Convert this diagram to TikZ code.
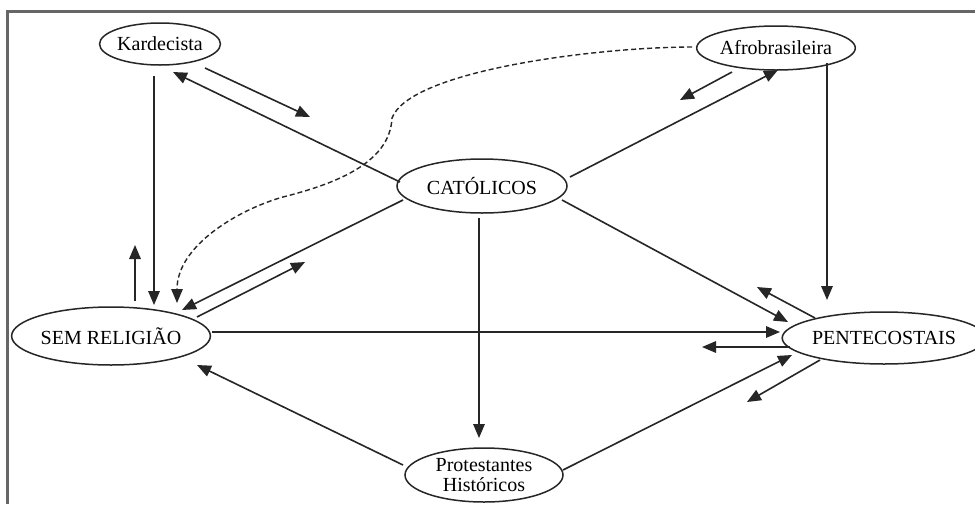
\documentclass[tikz,border=0pt]{standalone}
\usepackage{fontspec}
\setmainfont{Liberation Serif}
\usetikzlibrary{shapes.geometric,arrows.meta}
\begin{document}
\begin{tikzpicture}[x=1pt,y=-1pt,
  ell/.style={draw=black!85,line width=1.5pt,ellipse,inner sep=0pt,
    font=\fontsize{20}{21}\selectfont,text=black,align=center},
  arr/.style={draw=black!85,line width=1.6pt,
    -{Triangle[length=14pt,width=11.5pt]}},
  dsh/.style={arr,dashed,dash pattern=on 5pt off 3pt,line width=1.4pt},
  framel/.style={draw=black!60,line width=3pt}]
\useasboundingbox (0,0) rectangle (975,504);
\fill[white] (0,0) rectangle (975,504);
% frame (top and left edges)
\coordinate (ftl) at (7,11);
\coordinate (ftr) at (975,11);
\coordinate (fbl) at (7,504);
\draw[framel] (fbl) -- (ftl) -- (ftr);
% nodes
\node[ell,minimum width=114pt,minimum height=42pt] (kard) at (160,44) {Kardecista};
\node[ell,minimum width=148pt,minimum height=44pt] (afro) at (776,48) {Afrobrasileira};
\node[ell,minimum width=170pt,minimum height=54pt] (cat) at (482,186) {CATÓLICOS};
\node[ell,minimum width=194pt,minimum height=58pt] (sem) at (111,336) {SEM RELIGIÃO};
\node[ell,minimum width=180pt,minimum height=52pt] (pent) at (884,338) {PENTECOSTAIS};
\node[ell,minimum width=158pt,minimum height=54pt] (prot) at (484,475) {Protestantes\\[-1pt]Históricos};
% free ends of short arrows
\coordinate (s2k) at (135,245);
\coordinate (k2c) at (310,117);
\coordinate (s2c) at (305,262);
\coordinate (a2c) at (680,100);
\coordinate (p2c) at (757,287);
\coordinate (p2s) at (702,347);
\coordinate (p2p) at (747,402);
% connectors
\draw[arr] ([shift={(-6,32)}]kard.center) -- ([shift={(43,-31)}]sem.center);
\draw[arr] ([shift={(24,-35)}]sem.center) -- (s2k);
\draw[arr] ([shift={(-82,-4)}]cat.center) -- ([shift={(13,28)}]kard.center);
\draw[arr] ([shift={(45,24)}]kard.center) -- (k2c);
\draw[dsh] ([shift={(-84,-1)}]afro.center)
   .. controls (600,47) and (410,70) .. (392,118)
   .. controls (390,165) and (330,185) .. (283,197)
   .. controls (240,209) and (177,245) .. ([shift={(66,-33)}]sem.center);
\draw[arr] ([shift={(-79,14)}]cat.center) -- ([shift={(71,-26)}]sem.center);
\draw[arr] ([shift={(86,-19)}]sem.center) -- (s2c);
\draw[arr] ([shift={(88,-9)}]cat.center) -- ([shift={(2,22)}]afro.center);
\draw[arr] ([shift={(-44,24)}]afro.center) -- (a2c);
\draw[arr] ([shift={(51,15)}]afro.center) -- ([shift={(-57,-38)}]pent.center);
\draw[arr] ([shift={(80,14)}]cat.center) -- ([shift={(-96,-16)}]pent.center);
\draw[arr] ([shift={(-69,-20)}]pent.center) -- (p2c);
\draw[arr] ([shift={(101,-4)}]sem.center) -- ([shift={(-104,-6)}]pent.center);
\draw[arr] ([shift={(-94,9)}]pent.center) -- (p2s);
\draw[arr] ([shift={(-3,32)}]cat.center) -- ([shift={(-5,-37)}]prot.center);
\draw[arr] ([shift={(-81,-10)}]prot.center) -- ([shift={(86,29)}]sem.center);
\draw[arr] ([shift={(79,-5)}]prot.center) -- ([shift={(-92,17)}]pent.center);
\draw[arr] ([shift={(-64,22)}]pent.center) -- (p2p);
\end{tikzpicture}
\end{document}
